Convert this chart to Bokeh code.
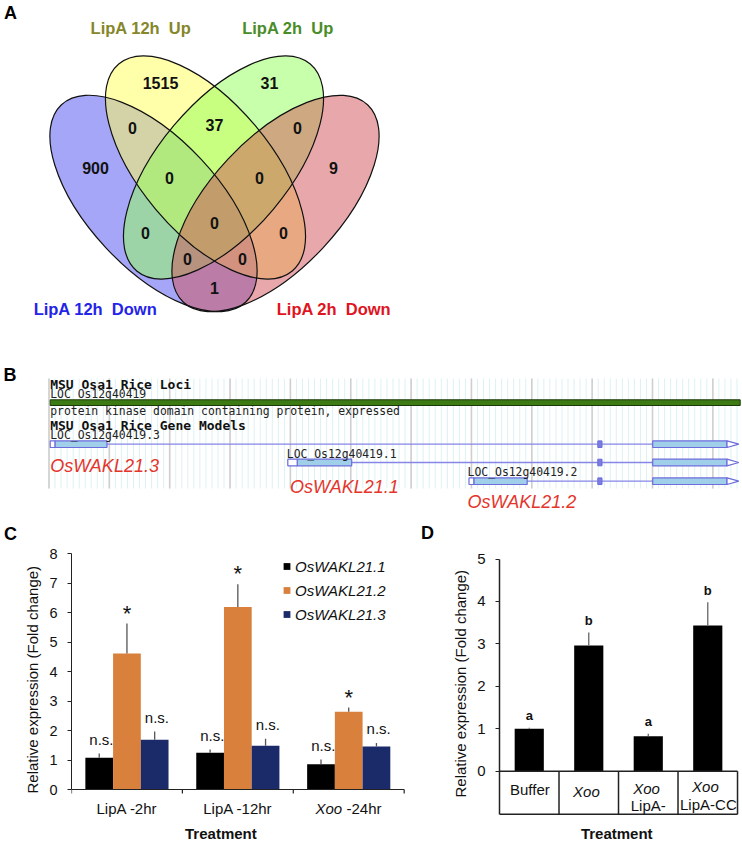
import numpy as np
from bokeh.plotting import figure
from bokeh.layouts import column, row
from bokeh.models import Range1d, FixedTicker, Legend, LegendItem, Title
from bokeh.core.properties import value
from bokeh.embed import file_html
from bokeh.resources import INLINE

SANS = "Liberation Sans"
MONO = "DejaVu Sans Mono"

# ======================= DATA =======================
# ---- Panel A : Venn diagram ----
venn_set_names = ["LipA 12h\u00a0 Down", "LipA 12h\u00a0 Up", "LipA 2h\u00a0 Up", "LipA 2h\u00a0 Down"]
venn_set_text_colors = ["#2424E8", "#86862A", "#4A8C28", "#E0141E"]
venn_set_fills = ["#4D4DF2", "#FFFF55", "#92FF55", "#D25257"]
venn_region_counts = [1515, 31, 0, 37, 0, 900, 0, 0, 9, 0, 0, 0, 0, 0, 1]

# ---- Panel B : gene models ----
b_loci_title = "MSU Osa1 Rice Loci"
b_locus_name = "LOC_Os12g40419"
b_locus_desc = "protein kinase domain containing protein, expressed"
b_models_title = "MSU Osa1 Rice Gene Models"
b_tx_names = ["LOC_Os12g40419.3", "LOC_Os12g40419.1", "LOC_Os12g40419.2"]
b_tx_genes = ["OsWAKL21.3", "OsWAKL21.1", "OsWAKL21.2"]
b_tx_start = [49.7, 287.3, 468.5]
b_tx_utr_end = [54.4, 296.7, 473.3]
b_tx_exon1_end = [106.5, 351.2, 526.7]
b_exon2 = [597.3, 601.5]
b_exon3 = [652.2, 726.5]
b_tx_end = 738.3
b_locus_span = [49.7, 739.7]

# ---- Panel C : qRT-PCR time course ----
c_groups = ["LipA -2hr", "LipA -12hr", "Xoo -24hr"]
c_series = ["OsWAKL21.1", "OsWAKL21.2", "OsWAKL21.3"]
c_colors = ["#000000", "#D8803C", "#1B2A68"]
c_mean_21_1 = [1.08, 1.25, 0.86]
c_mean_21_2 = [4.61, 6.19, 2.64]
c_mean_21_3 = [1.69, 1.48, 1.46]
c_err_21_1 = [0.14, 0.11, 0.16]
c_err_21_2 = [1.02, 0.77, 0.14]
c_err_21_3 = [0.28, 0.24, 0.12]
c_sig_21_1 = ["n.s.", "n.s.", "n.s."]
c_sig_21_2 = ["*", "*", "*"]
c_sig_21_3 = ["n.s.", "n.s.", "n.s."]
c_yticks = [0, 1, 2, 3, 4, 5, 6, 7, 8]

# ---- Panel D : Xoo strains ----
d_top_line = ["Buffer", "Xoo", "Xoo", "Xoo"]
d_bottom_line = ["", "", "LipA-", "LipA-CC"]
d_means = [1.00, 2.96, 0.82, 3.43]
d_errs = [0.02, 0.31, 0.06, 0.55]
d_letters = ["a", "b", "a", "b"]
d_yticks = [0, 1, 2, 3, 4, 5]

YLABEL = "Relative expression (Fold change)"

# ======================= PANELS A + B =======================
H_AB = 543
pab = figure(width=742, height=H_AB, x_range=Range1d(0, 742), y_range=Range1d(0, H_AB),
             output_backend="svg", toolbar_location=None, x_axis_type=None, y_axis_type=None,
             min_border=0)
pab.outline_line_color = None


def yd(y):
    return [H_AB - v for v in y] if isinstance(y, list) else H_AB - y


venn_cx = [153, 205, 223, 275]
venn_cy = [203, 167, 167, 203]
venn_angle = [-47, -50, 50, 47]
pab.ellipse(x=venn_cx, y=yd(venn_cy), width=270, height=130, angle=np.radians(venn_angle),
            fill_color=venn_set_fills, fill_alpha=0.5, line_color=None)
pab.ellipse(x=venn_cx, y=yd(venn_cy), width=270, height=130, angle=np.radians(venn_angle),
            fill_color=None, line_color="#111111", line_width=1.2)

venn_region_x = [160, 269, 132, 214, 297, 95, 169, 259, 333, 214, 145, 283, 187, 242, 214]
venn_region_y = [82, 82, 127, 124, 127, 167, 177, 177, 167, 222, 232, 232, 258, 258, 287]
pab.text(x=venn_region_x, y=yd(venn_region_y), text=[str(c) for c in venn_region_counts],
         text_align="center", text_baseline="middle", text_font=value(SANS),
         text_font_style="bold", text_font_size="16px", text_color="#111111")

venn_name_x = [95, 140.5, 287.5, 333.5]
venn_name_y = [308, 27, 27, 308]
pab.text(x=venn_name_x, y=yd(venn_name_y), text=venn_set_names, text_align="center",
         text_baseline="middle", text_font=value(SANS), text_font_style="bold",
         text_font_size="16.5px", text_color=venn_set_text_colors)

# panel letters A-D
pab.text(x=[10, 9.5, 10, 427], y=yd([12.5, 374, 533.5, 532.5]), text=["A", "B", "C", "D"],
         text_align="center", text_baseline="middle", text_font=value(SANS),
         text_font_style="bold", text_font_size="18px", text_color="black")

# Panel B background grid
b_top, b_bot = 378, 488
fine = np.arange(48.5, 740, 6.035)
pab.segment(x0=fine, y0=yd(b_top), x1=fine, y1=yd(b_bot), line_color="#DDF1F3", line_width=1)
major = np.arange(48.5, 740, 60.35)
pab.segment(x0=major, y0=yd(b_top), x1=major, y1=yd(b_bot), line_color="#CFCFCF", line_width=1.6)

# locus track
pab.text(x=[49.7], y=[yd(384.3)], text=[b_loci_title], text_align="left", text_baseline="middle",
         text_font=value(MONO), text_font_style="bold", text_font_size="13px", text_color="#111111")
pab.text(x=[49.7], y=[yd(393.5)], text=[b_locus_name], text_align="left", text_baseline="middle",
         text_font=value(MONO), text_font_size="11.4px", text_color="#222222")
pab.quad(left=[b_locus_span[0]], right=[b_locus_span[1]], bottom=[yd(405)], top=[yd(399.3)],
         fill_color="#3C7A14", line_color="#1C3A08", line_width=1)
pab.text(x=[49.7], y=[yd(410.5)], text=[b_locus_desc], text_align="left", text_baseline="middle",
         text_font=value(MONO), text_font_size="11.4px", text_color="#222222")
pab.text(x=[49.7], y=[yd(425)], text=[b_models_title], text_align="left", text_baseline="middle",
         text_font=value(MONO), text_font_style="bold", text_font_size="13px", text_color="#111111")

# transcripts
tx_y = [443.7, 462.0, 480.7]
tx_label_x = [49.7, 286.3, 467.1]
tx_label_y = [434.3, 453.3, 471.7]
gene_x = [49.7, 289.6, 467.1]
gene_y = [465, 486.7, 501.7]
hh = 3.3
EX_FILL, EX_LINE, INTRON = "#A0CFEA", "#6C6CDC", "#8686E8"
pab.segment(x0=b_tx_start, y0=yd(tx_y), x1=[b_exon3[1]] * 3, y1=yd(tx_y), line_color=INTRON, line_width=1.3)
pab.quad(left=b_tx_utr_end, right=b_tx_exon1_end, bottom=[yd(v + hh) for v in tx_y],
         top=[yd(v - hh) for v in tx_y], fill_color=EX_FILL, line_color=EX_LINE, line_width=1.2)
pab.quad(left=b_tx_start, right=b_tx_utr_end, bottom=[yd(v + hh) for v in tx_y],
         top=[yd(v - hh) for v in tx_y], fill_color="white", line_color=EX_LINE, line_width=1.2)
pab.quad(left=[b_exon2[0]] * 3, right=[b_exon2[1]] * 3, bottom=[yd(v + hh) for v in tx_y],
         top=[yd(v - hh) for v in tx_y], fill_color="#7C7CE0", line_color=EX_LINE, line_width=1)
pab.quad(left=[b_exon3[0]] * 3, right=[b_exon3[1]] * 3, bottom=[yd(v + hh) for v in tx_y],
         top=[yd(v - hh) for v in tx_y], fill_color=EX_FILL, line_color=EX_LINE, line_width=1.2)
pab.patches(xs=[[b_exon3[1], b_tx_end, b_exon3[1]] for _ in tx_y],
            ys=[[yd(v - hh), yd(v), yd(v + hh)] for v in tx_y],
            fill_color="white", line_color=EX_LINE, line_width=1.2)
pab.text(x=tx_label_x, y=yd(tx_label_y), text=b_tx_names, text_align="left", text_baseline="middle",
         text_font=value(MONO), text_font_size="11.4px", text_color="#222222")
pab.text(x=gene_x, y=yd(gene_y), text=b_tx_genes, text_align="left", text_baseline="middle",
         text_font=value(SANS), text_font_style="italic", text_font_size="18px", text_color="#E5352B")


def side_title(text, offset):
    return Title(text=text, align="left", offset=offset, text_font=SANS, text_font_style="normal",
                 text_font_size="15px", text_color="#111111", standoff=11)


# ======================= PANEL C =======================
pc = figure(width=416, height=301, x_range=Range1d(0, 3.03), y_range=Range1d(-1.864, 8),
            output_backend="svg", toolbar_location=None, x_axis_location=None,
            min_border_left=71, min_border_right=9, min_border_top=10, min_border_bottom=0)
pc.outline_line_color = None
pc.grid.visible = False
pc.add_layout(side_title(YLABEL, 51), "left")

c_means = [c_mean_21_1, c_mean_21_2, c_mean_21_3]
c_errs = [c_err_21_1, c_err_21_2, c_err_21_3]
c_sigs = [c_sig_21_1, c_sig_21_2, c_sig_21_3]
offsets = [-0.25, 0.0, 0.25]
legend_items = []
for k in range(3):
    xs = [i + 0.5 + offsets[k] for i in range(3)]
    pc.vbar(x=xs, top=c_means[k], width=0.25, fill_color=c_colors[k], line_color=None)
    tops = [m + e for m, e in zip(c_means[k], c_errs[k])]
    pc.segment(x0=xs, y0=c_means[k], x1=xs, y1=tops, line_color="#555555", line_width=1.3)
    if k == 1:
        pc.text(x=xs, y=[t + 0.35 for t in tops], text=c_sigs[k], text_align="center",
                text_baseline="alphabetic", text_font=value(SANS), text_font_size="22px",
                text_color="#111111")
    else:
        pc.text(x=[x + 0.02 for x in xs], y=[t + 0.48 for t in tops], text=c_sigs[k],
                text_align="center", text_baseline="alphabetic", text_font=value(SANS),
                text_font_size="15px", text_color="#111111")
    r = pc.scatter(x=[-10], y=[-10], marker="square", fill_color=c_colors[k], line_color=None)
    legend_items.append(LegendItem(label=c_series[k], renderers=[r]))

legend = Legend(items=legend_items, location=(207, 220), padding=0, margin=0, spacing=4,
                glyph_width=17, glyph_height=20, label_height=20, label_standoff=0,
                border_line_color=None, background_fill_alpha=0,
                label_text_font=SANS, label_text_font_style="italic", label_text_font_size="15px",
                label_text_color="#111111")
pc.add_layout(legend)

yax = pc.yaxis[0]
yax.ticker = FixedTicker(ticks=c_yticks, minor_ticks=[])
yax.bounds = (0, 8)
yax.major_tick_in = 0
yax.major_tick_out = 4
yax.major_label_standoff = 10
yax.major_label_text_font = SANS
yax.major_label_text_font_size = "14.5px"
yax.major_label_text_color = "#111111"
yax.axis_line_color = "#222222"
yax.major_tick_line_color = "#222222"

# category axis (line, boundary ticks, labels)
pc.segment(x0=[0], y0=[0], x1=[3], y1=[0], line_color="#222222", line_width=1.2)
pc.segment(x0=[0, 1, 2, 3], y0=[0] * 4, x1=[0, 1, 2, 3], y1=[-0.136] * 4, line_color="#222222", line_width=1.2)
lab_y = -0.634
pc.text(x=[0.5, 1.5], y=[lab_y, lab_y], text=c_groups[:2], text_align="center", text_baseline="middle",
        text_font=value(SANS), text_font_size="15px", text_color="#111111")
xoo, rest = c_groups[2].split(" ", 1)
pc.text(x=[2.44], y=[lab_y], text=[xoo], text_align="right", text_baseline="middle",
        text_font=value(SANS), text_font_style="italic", text_font_size="15px", text_color="#111111")
pc.text(x=[2.48], y=[lab_y], text=[rest], text_align="left", text_baseline="middle",
        text_font=value(SANS), text_font_size="15px", text_color="#111111")
pc.text(x=[1.347], y=[-1.49], text=["Treatment"], text_align="center", text_baseline="middle",
        text_font=value(SANS), text_font_style="bold", text_font_size="15px", text_color="#111111")

# ======================= PANEL D =======================
pd_ = figure(width=326, height=301, x_range=Range1d(0, 4.05), y_range=Range1d(-1.729, 5.13),
             output_backend="svg", toolbar_location=None, x_axis_location=None,
             min_border_left=83, min_border_right=2, min_border_top=4, min_border_bottom=0)
pd_.outline_line_color = None
pd_.grid.visible = False
pd_.add_layout(side_title(YLABEL, 47), "left")

dx = [i + 0.5 for i in range(4)]
pd_.vbar(x=dx, top=d_means, width=0.49, fill_color="black", line_color=None)
d_tops = [m + e for m, e in zip(d_means, d_errs)]
pd_.segment(x0=dx, y0=d_means, x1=dx, y1=d_tops, line_color="#666666", line_width=1.3)
pd_.text(x=dx, y=[t + 0.28 for t in d_tops], text=d_letters, text_align="center",
         text_baseline="alphabetic", text_font=value(SANS), text_font_style="bold",
         text_font_size="13px", text_color="#111111")

box_bottom = -1.016
pd_.segment(x0=[0], y0=[0], x1=[4], y1=[0], line_color="#222222", line_width=1.5)
pd_.segment(x0=[0], y0=[box_bottom], x1=[4], y1=[box_bottom], line_color="#222222", line_width=1.5)
pd_.segment(x0=[1, 2, 3, 4], y0=[0] * 4, x1=[1, 2, 3, 4], y1=[box_bottom] * 4,
            line_color="#222222", line_width=1.5)
top_x = [0.51, 1.46, 2.47, 3.46]
top_y = [-0.43, -0.48, -0.42, -0.36]
pd_.text(x=top_x[:1], y=top_y[:1], text=d_top_line[:1], text_align="center", text_baseline="middle",
         text_font=value(SANS), text_font_size="15px", text_color="#111111")
pd_.text(x=top_x[1:], y=top_y[1:], text=d_top_line[1:], text_align="center", text_baseline="middle",
         text_font=value(SANS), text_font_style="italic", text_font_size="15px", text_color="#111111")
pd_.text(x=[2.5, 3.51], y=[-0.81, -0.79], text=d_bottom_line[2:], text_align="center",
         text_baseline="middle", text_font=value(SANS), text_font_size="15px", text_color="#111111")
pd_.text(x=[1.97], y=[-1.47], text=["Treatment"], text_align="center", text_baseline="middle",
         text_font=value(SANS), text_font_style="bold", text_font_size="15px", text_color="#111111")

yax = pd_.yaxis[0]
yax.ticker = FixedTicker(ticks=d_yticks, minor_ticks=[])
yax.bounds = (box_bottom, 5)
yax.major_tick_in = 0
yax.major_tick_out = 4
yax.major_label_standoff = 10
yax.major_label_text_font = SANS
yax.major_label_text_font_size = "15px"
yax.major_label_text_color = "#111111"
yax.axis_line_color = "#222222"
yax.axis_line_width = 1.5
yax.major_tick_line_color = "#222222"

layout = column(pab, row(pc, pd_))
open("out.html", "w").write(file_html(layout, INLINE))
